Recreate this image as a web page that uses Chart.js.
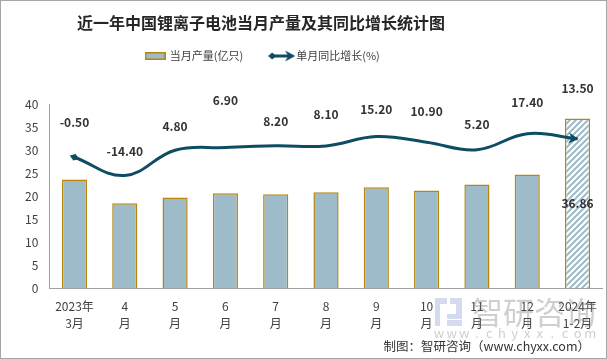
<!DOCTYPE html>
<html><head><meta charset="utf-8">
<script src="https://cdn.jsdelivr.net/npm/chart.js@4"></script>
<style>html,body{margin:0;padding:0;background:#fff}canvas{display:block}</style>
</head><body>
<canvas id="c" width="607" height="359"></canvas>
<script>
// ---- data ----
const categories = [['2023年','3月'],['4','月'],['5','月'],['6','月'],['7','月'],['8','月'],['9','月'],['10','月'],['11','月'],['12','月'],['2024年','1-2月']];
const output = [23.6, 18.4, 19.7, 20.6, 20.4, 20.8, 21.9, 21.2, 22.5, 24.7, 36.86];
const growth = [-0.5, -14.4, 4.8, 6.9, 8.2, 8.1, 15.2, 10.9, 5.2, 17.4, 13.5];
const seriesNames = ['当月产量(亿只)', '单月同比增长(%)'];
const titleText = '近一年中国锂离子电池当月产量及其同比增长统计图';
const sourceText = '制图：智研咨询（www.chyxx.com）';

// ---- styles ----
const FF = "'Noto Sans CJK SC', 'Liberation Sans', sans-serif";
const BAR_FILL = '#9dbbc8';
const BAR_EDGE = '#b8860b';
const LINE_COL = '#0e4c63';
const TEXT_COL = '#404040';
const AXIS_COL = '#a0a0a0';
const labelLift = [35, 24, 24, 47, 24, 31, 27, 31, 25, 31, 50];

function makeHatch() {
  const c = document.createElement('canvas'); c.width = 6; c.height = 6;
  const x = c.getContext('2d');
  x.fillStyle = '#fff'; x.fillRect(0, 0, 6, 6);
  x.strokeStyle = BAR_FILL; x.lineWidth = 2;
  x.beginPath();
  x.moveTo(-1, 7); x.lineTo(7, -1);
  x.moveTo(-4, 4); x.lineTo(4, -4);
  x.moveTo(2, 10); x.lineTo(10, 2);
  x.stroke();
  return x.createPattern(c, 'repeat');
}
function barIcon() {
  const c = document.createElement('canvas'); c.width = 21; c.height = 8;
  const x = c.getContext('2d');
  x.fillStyle = BAR_FILL; x.fillRect(1, 1, 19, 6);
  x.strokeStyle = BAR_EDGE; x.lineWidth = 1.5; x.strokeRect(0.75, 0.75, 19.5, 6.5);
  return c;
}
function arrowIcon() {
  const c = document.createElement('canvas'); c.width = 27; c.height = 12;
  const x = c.getContext('2d');
  x.fillStyle = LINE_COL; x.strokeStyle = LINE_COL; x.lineWidth = 3;
  x.beginPath(); x.moveTo(4, 6); x.lineTo(21, 6); x.stroke();
  x.beginPath(); x.moveTo(0, 6); x.lineTo(4, 2.5); x.lineTo(8, 6); x.lineTo(4, 9.5); x.closePath(); x.fill();
  x.beginPath(); x.moveTo(27, 6); x.lineTo(17, 0.5); x.lineTo(20, 6); x.lineTo(17, 11.5); x.closePath(); x.fill();
  return c;
}

const hatch = makeHatch();
const barColors = output.map((v, i) => i === output.length - 1 ? hatch : BAR_FILL);

const decorations = {
  id: 'decorations',
  beforeInit(chart) {
    const lg = chart.legend;
    if (lg) {
      const fit = lg.fit;
      lg.fit = function () { fit.call(this); this.height += 32.5; };
    }
  },
  afterLayout(chart) {
    if (chart.titleBlock) { chart.titleBlock.left = 0; chart.titleBlock.right = 522; }
    if (chart.legend) { chart.legend.left = 0; chart.legend.right = 526; }
  },
  beforeDraw(chart) {
    const ctx = chart.ctx;
    ctx.save(); ctx.fillStyle = '#fff'; ctx.fillRect(0, 0, chart.width, chart.height); ctx.restore();
  },
  afterDatasetsDraw(chart) {
    const ctx = chart.ctx;
    const lineMeta = chart.getDatasetMeta(1);
    const pts = lineMeta.data;
    ctx.save();
    ctx.fillStyle = LINE_COL;
    if (pts.length > 1) {
      const p0 = pts[0], p1 = pts[1];
      let dx = p0.cp2x - p0.x, dy = p0.cp2y - p0.y;
      if (!isFinite(dx) || Math.hypot(dx, dy) < 0.5) { dx = p1.x - p0.x; dy = p1.y - p0.y; }
      let a = Math.atan2(dy, dx);
      ctx.save(); ctx.translate(p0.x, p0.y); ctx.rotate(a);
      ctx.beginPath(); ctx.moveTo(-5, 0); ctx.lineTo(0, -3.5); ctx.lineTo(5, 0); ctx.lineTo(0, 3.5); ctx.closePath(); ctx.fill();
      ctx.restore();
      const pn = pts[pts.length - 1], pm = pts[pts.length - 2];
      dx = pn.x - pn.cp1x; dy = pn.y - pn.cp1y;
      if (!isFinite(dx) || Math.hypot(dx, dy) < 0.5) { dx = pn.x - pm.x; dy = pn.y - pm.y; }
      a = Math.atan2(dy, dx);
      ctx.save(); ctx.translate(pn.x, pn.y); ctx.rotate(a);
      ctx.beginPath(); ctx.moveTo(1, 0); ctx.lineTo(-9, -5.5); ctx.lineTo(-6, 0); ctx.lineTo(-9, 5.5); ctx.closePath(); ctx.fill();
      ctx.restore();
    }
    ctx.font = 'bold 12px ' + FF;
    ctx.fillStyle = '#333';
    ctx.textAlign = 'center'; ctx.textBaseline = 'middle';
    pts.forEach((p, i) => {
      ctx.fillText(growth[i].toFixed(2), p.x, p.y - labelLift[i]);
    });
    const barMeta = chart.getDatasetMeta(0);
    const lb = barMeta.data[barMeta.data.length - 1];
    if (lb) ctx.fillText(output[output.length - 1].toFixed(2), lb.x, (lb.y + lb.base) / 2);
    ctx.restore();
  },
  afterDraw(chart) {
    const ctx = chart.ctx;
    ctx.save();
    ctx.fillStyle = 'rgba(110,140,200,0.30)';
    ctx.fillRect(435, 298, 12, 6); ctx.fillRect(435, 304, 5, 22); ctx.fillRect(450, 298, 12, 6);
    ctx.fillRect(456, 304, 6, 10); ctx.fillRect(447, 314, 15, 5); ctx.fillRect(447, 320, 15, 6);
    ctx.fillStyle = 'rgba(130,130,130,0.38)';
    ctx.font = '31px ' + FF; ctx.textAlign = 'left'; ctx.textBaseline = 'middle';
    ctx.fillText('智研咨询', 472, 312);
    ctx.font = '13px ' + FF; ctx.textAlign = 'center';
    const ww = 'www.chyxx.com';
    for (let i = 0; i < ww.length; i++) ctx.fillText(ww[i], 439 + i * 12.6, 333);
    ctx.fillStyle = '#333'; ctx.font = '12.5px ' + FF; ctx.textAlign = 'right';
    ctx.fillText(sourceText, 590, 346);
    ctx.strokeStyle = '#a6a6a6'; ctx.lineWidth = 1;
    ctx.strokeRect(0.5, 0.5, chart.width - 1, chart.height - 1);
    ctx.restore();
  }
};

Chart.defaults.font.family = FF;
Chart.defaults.color = TEXT_COL;

new Chart(document.getElementById('c'), {
  type: 'bar',
  data: {
    labels: categories,
    datasets: [
      {
        type: 'bar', label: seriesNames[0], data: output, yAxisID: 'y', order: 2,
        backgroundColor: barColors, borderColor: BAR_EDGE, borderWidth: 1.5,
        barPercentage: 0.5, categoryPercentage: 1
      },
      {
        type: 'line', label: seriesNames[1], data: growth, yAxisID: 'y1', order: 1,
        borderColor: LINE_COL, borderWidth: 3, pointRadius: 0, tension: 0.4, fill: false
      }
    ]
  },
  options: {
    responsive: false,
    animation: false,
    devicePixelRatio: 1,
    layout: { padding: { left: 14, right: 3, top: 0, bottom: 17.4 } },
    plugins: {
      title: {
        display: true, text: titleText, color: '#262626',
        font: { size: 16, weight: 'bold', family: FF },
        padding: { top: 13, bottom: -11.2 }
      },
      legend: {
        display: true, position: 'top', align: 'center',
        labels: {
          usePointStyle: true, pointStyleWidth: 18, padding: 29.5,
          color: TEXT_COL, font: { size: 11, family: FF },
          generateLabels() {
            return [
              { text: seriesNames[0], pointStyle: barIcon(), datasetIndex: 0, fontColor: TEXT_COL, lineWidth: 0, hidden: false },
              { text: seriesNames[1], pointStyle: arrowIcon(), datasetIndex: 1, fontColor: TEXT_COL, lineWidth: 0, hidden: false }
            ];
          }
        }
      },
      tooltip: { enabled: false }
    },
    scales: {
      x: {
        grid: { display: false, drawTicks: false },
        border: { display: true, color: AXIS_COL, width: 1 },
        ticks: { padding: 10, color: TEXT_COL, font: { size: 12, lineHeight: 1.4 }, maxRotation: 0, autoSkip: false }
      },
      y: {
        position: 'left', min: 0, max: 40,
        grid: { display: false, drawTicks: false },
        border: { display: true, color: AXIS_COL, width: 1 },
        ticks: { stepSize: 5, padding: 11, color: TEXT_COL, font: { size: 12 } }
      },
      y1: {
        position: 'right', min: -100, max: 40, display: false,
        grid: { display: false }
      }
    }
  },
  plugins: [decorations]
});
</script>
</body></html>
